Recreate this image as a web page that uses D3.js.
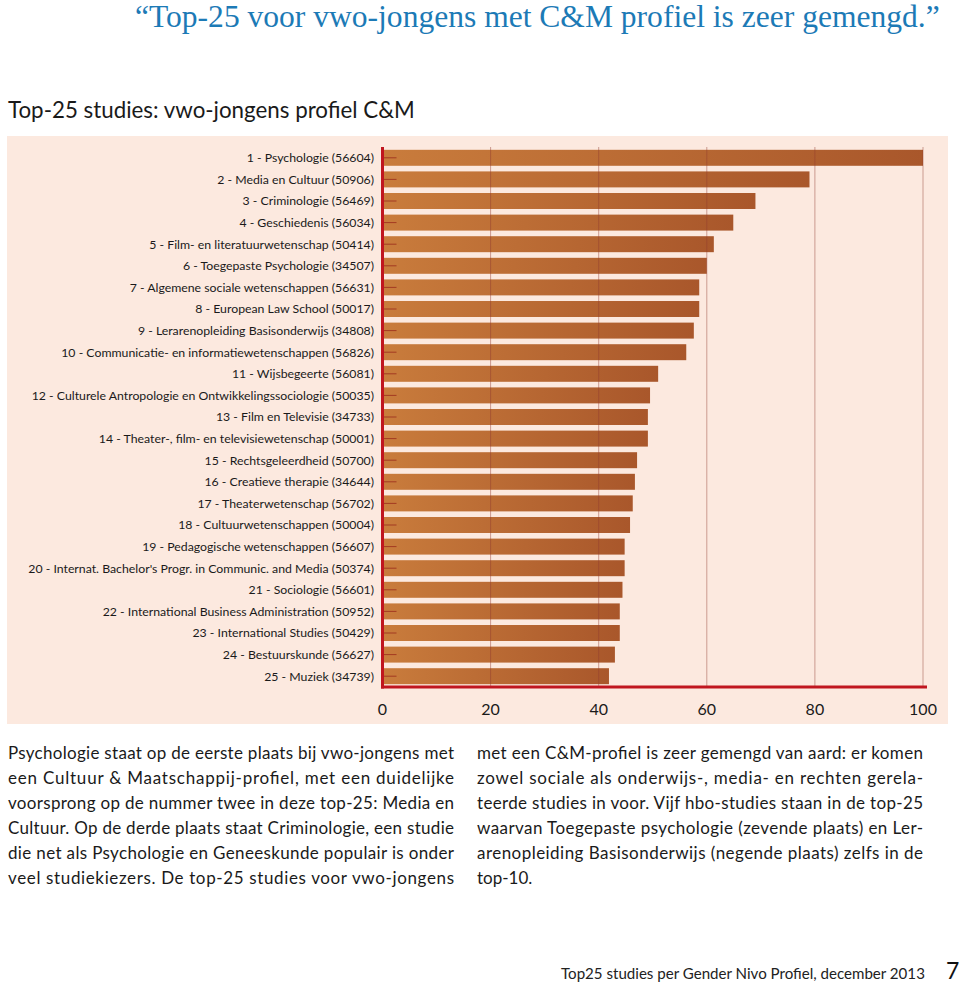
<!DOCTYPE html>
<html>
<head>
<meta charset="utf-8">
<script src="https://cdn.jsdelivr.net/npm/d3@7"></script>
<style>
  html, body { margin: 0; padding: 0; background: #ffffff; }
  svg { display: block; }
</style>
</head>
<body>
<svg id="chart" width="960" height="986"></svg>
<script>
// ---------- DATA ----------
const categories = [
  "1 - Psychologie (56604)",
  "2 - Media en Cultuur (50906)",
  "3 - Criminologie (56469)",
  "4 - Geschiedenis (56034)",
  "5 - Film- en literatuurwetenschap (50414)",
  "6 - Toegepaste Psychologie (34507)",
  "7 - Algemene sociale wetenschappen (56631)",
  "8 - European Law School (50017)",
  "9 - Lerarenopleiding Basisonderwijs (34808)",
  "10 - Communicatie- en informatiewetenschappen (56826)",
  "11 - Wijsbegeerte (56081)",
  "12 - Culturele Antropologie en Ontwikkelingssociologie (50035)",
  "13 - Film en Televisie (34733)",
  "14 - Theater-, film- en televisiewetenschap (50001)",
  "15 - Rechtsgeleerdheid (50700)",
  "16 - Creatieve therapie (34644)",
  "17 - Theaterwetenschap (56702)",
  "18 - Cultuurwetenschappen (50004)",
  "19 - Pedagogische wetenschappen (56607)",
  "20 - Internat. Bachelor's Progr. in Communic. and Media (50374)",
  "21 - Sociologie (56601)",
  "22 - International Business Administration (50952)",
  "23 - International Studies (50429)",
  "24 - Bestuurskunde (56627)",
  "25 - Muziek (34739)"
];
const values = [100, 79.0, 69.0, 64.9, 61.3, 60.0, 58.6, 58.6, 57.6, 56.2,
                51.0, 49.5, 49.1, 49.1, 47.1, 46.7, 46.3, 45.8, 44.8, 44.8,
                44.4, 43.9, 43.9, 43.0, 41.9];
const xTicks = [0, 20, 40, 60, 80, 100];

const titleText = "\u201CTop-25 voor vwo-jongens met C&M profiel is zeer gemengd.\u201D";
const subtitleText = "Top-25 studies: vwo-jongens profiel C&M";
const leftLines = [
  "Psychologie staat op de eerste plaats bij vwo-jongens met",
  "een Cultuur & Maatschappij-profiel, met een duidelijke",
  "voorsprong op de nummer twee in deze top-25: Media en",
  "Cultuur. Op de derde plaats staat Criminologie, een studie",
  "die net als Psychologie en Geneeskunde populair is onder",
  "veel studiekiezers. De top-25 studies voor vwo-jongens"
];
const rightLines = [
  "met een C&M-profiel is zeer gemengd van aard: er komen",
  "zowel sociale als onderwijs-, media- en rechten gerela-",
  "teerde studies in voor. Vijf hbo-studies staan in de top-25",
  "waarvan Toegepaste psychologie (zevende plaats) en Ler-",
  "arenopleiding Basisonderwijs (negende plaats) zelfs in de",
  "top-10."
];
const footerText = "Top25 studies per Gender Nivo Profiel, december 2013";
const pageNumber = "7";

// ---------- LAYOUT ----------
const svg = d3.select("#chart");
const sansFont = "Lato, 'Open Sans', sans-serif";

function fitWidth(sel, target) {
  const node = sel.node();
  const fs = parseFloat(sel.attr("font-size"));
  const w = node.getComputedTextLength();
  if (w > 0) sel.attr("font-size", (fs * target / w).toFixed(2));
}

// Title
const title = svg.append("text")
  .attr("x", 135).attr("y", 27)
  .attr("font-family", "'Liberation Serif', 'DejaVu Serif', serif")
  .attr("font-size", 28)
  .attr("fill", "#1c7ab6")
  .text(titleText);
fitWidth(title, 805);

// Subtitle
const sub = svg.append("text")
  .attr("x", 8).attr("y", 118)
  .attr("font-family", sansFont)
  .attr("font-size", 22)
  .attr("fill", "#1a1a1a")
  .text(subtitleText);
fitWidth(sub, 407);

// Panel background
svg.append("rect")
  .attr("x", 7).attr("y", 136)
  .attr("width", 941).attr("height", 588)
  .attr("fill", "#fce9df");

// Scales
const x = d3.scaleLinear().domain([0, 100]).range([382.5, 923]);
const y = d3.scaleBand().domain(categories).range([147, 687])
  .paddingInner(0.26).paddingOuter(0.13);

// Gradient
const defs = svg.append("defs");
const grad = defs.append("linearGradient").attr("id", "barGrad")
  .attr("x1", "0%").attr("x2", "100%").attr("y1", "0%").attr("y2", "0%");
grad.append("stop").attr("offset", "0%").attr("stop-color", "#c97c3c");
grad.append("stop").attr("offset", "100%").attr("stop-color", "#a9572b");

const g = svg.append("g");

// Bars
g.selectAll("rect.bar")
  .data(categories)
  .join("rect")
  .attr("class", "bar")
  .attr("x", x(0))
  .attr("y", d => y(d))
  .attr("width", (d, i) => x(values[i]) - x(0))
  .attr("height", y.bandwidth())
  .attr("fill", "url(#barGrad)");

// Gridlines (over bars)
g.selectAll("line.grid")
  .data(xTicks.filter(t => t > 0))
  .join("line")
  .attr("class", "grid")
  .attr("x1", d => x(d)).attr("x2", d => x(d))
  .attr("y1", 147).attr("y2", 687)
  .attr("stroke", "#8f3a2e")
  .attr("stroke-opacity", 0.45)
  .attr("stroke-width", 1);

// Category ticks
g.selectAll("line.ytick")
  .data(categories)
  .join("line")
  .attr("class", "ytick")
  .attr("x1", x(0)).attr("x2", x(0) + 14)
  .attr("y1", d => y(d) + y.bandwidth() / 2)
  .attr("y2", d => y(d) + y.bandwidth() / 2)
  .attr("stroke", "#9a2a1c")
  .attr("stroke-opacity", 0.8)
  .attr("stroke-width", 1);

// Category labels
const labels = g.selectAll("text.cat")
  .data(categories)
  .join("text")
  .attr("class", "cat")
  .attr("x", 374)
  .attr("y", d => y(d) + y.bandwidth() / 2)
  .attr("dy", "0.35em")
  .attr("text-anchor", "end")
  .attr("font-family", sansFont)
  .attr("font-size", 12)
  .attr("fill", "#1a1a1a")
  .text(d => d);
// scale label font so the longest label fits its width in the reference
let maxW = 0;
labels.each(function() { maxW = Math.max(maxW, this.getComputedTextLength()); });
if (maxW > 0) labels.attr("font-size", (12 * 346 / maxW).toFixed(2));

// Axis lines (red)
g.append("line")
  .attr("x1", x(0)).attr("x2", x(0))
  .attr("y1", 147).attr("y2", 688.5)
  .attr("stroke", "#c0161f").attr("stroke-width", 3);
g.append("line")
  .attr("x1", x(0) - 1.5).attr("x2", 927)
  .attr("y1", 687).attr("y2", 687)
  .attr("stroke", "#c0161f").attr("stroke-width", 3);

// X tick labels
g.selectAll("text.xt")
  .data(xTicks)
  .join("text")
  .attr("class", "xt")
  .attr("x", d => x(d))
  .attr("y", 715)
  .attr("text-anchor", "middle")
  .attr("font-family", sansFont)
  .attr("font-size", 16)
  .attr("fill", "#1a1a1a")
  .text(d => d);

// Paragraph text (justified)
function drawLines(lines, x0, width, lastJustified) {
  lines.forEach((line, i) => {
    const t = svg.append("text")
      .attr("x", x0)
      .attr("y", 759 + i * 25)
      .attr("font-family", sansFont)
      .attr("font-size", 17)
      .attr("fill", "#1a1a1a")
      .text(line);
    const isLast = i === lines.length - 1;
    if (!isLast || lastJustified) {
      t.attr("textLength", width).attr("lengthAdjust", "spacing");
    }
  });
}
drawLines(leftLines, 8, 446, true);
drawLines(rightLines, 477, 446, false);

// Footer
const foot = svg.append("text")
  .attr("x", 561).attr("y", 979)
  .attr("font-family", sansFont)
  .attr("font-size", 15)
  .attr("fill", "#222")
  .text(footerText);
fitWidth(foot, 364);

svg.append("text")
  .attr("x", 946).attr("y", 979)
  .attr("font-family", sansFont)
  .attr("font-size", 23)
  .attr("fill", "#111")
  .text(pageNumber);
</script>
</body>
</html>
